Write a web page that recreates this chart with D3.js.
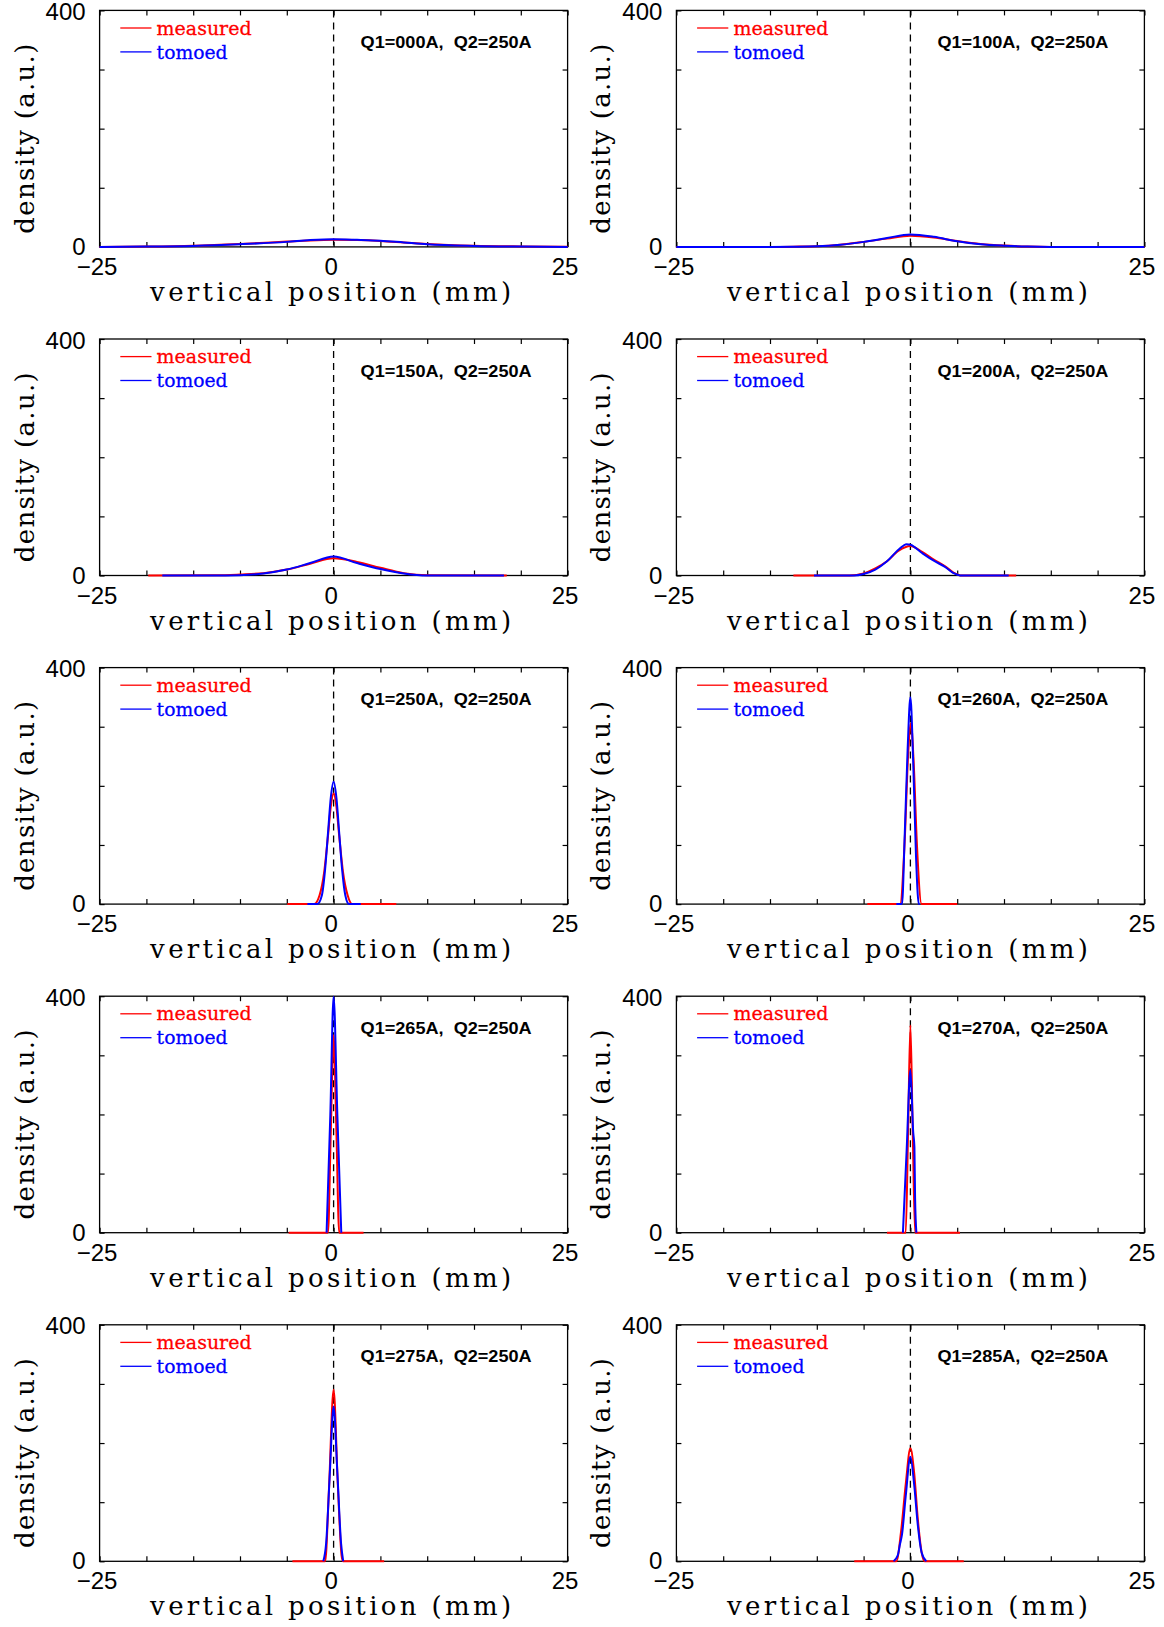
<!DOCTYPE html>
<meta charset="utf-8">
<style>
body { margin: 0; background: #fff; }
.tick text { font: 24px "Liberation Sans", Arial, sans-serif; fill: #000; }
.title { font-family: "DejaVu Serif", serif; font-size: 26px; fill: #000; }
.legend { font-family: "DejaVu Serif", serif; font-size: 19px; }
.note { font-family: "Liberation Sans", Arial, sans-serif; font-size: 16px; font-weight: bold; }
</style>
<svg width="1164" height="1627"></svg>
<script src="https://d3js.org/d3.v7.min.js"></script>
<script>

// panel labels
var labels = ["Q1=000A,  Q2=250A", "Q1=100A,  Q2=250A", "Q1=150A,  Q2=250A", "Q1=200A,  Q2=250A",
              "Q1=250A,  Q2=250A", "Q1=260A,  Q2=250A", "Q1=265A,  Q2=250A", "Q1=270A,  Q2=250A",
              "Q1=275A,  Q2=250A", "Q1=285A,  Q2=250A"];

var xTicks = [-25, 0, 25];
var yTicks = [0, 400];

// profiles: [position (mm), density]
var measured000 = [[-25,0],[-20,0.6],[-15,2],[-10,5],[-5,9],[-2.5,11],[0,12],[2.5,11.5],[5,10],[7.5,7.5],[10,5],[15,2],[20,0.8],[25,0.2]];
var tomoed000   = [[-25,0],[-20,0.5],[-15,1.7],[-10,4.5],[-5,8.5],[-2.5,11.5],[0,13],[2.5,12],[5,10.5],[7.5,7.5],[10,4.5],[15,1.7],[20,0.5],[25,0]];

var measured100 = [[-25,0],[-15,0],[-12.5,0.4],[-10,1.2],[-7.5,3.8],[-5,8.5],[-2.5,14],[0,19],[2.5,16],[5,10],[7.5,5],[10,2.2],[12.5,0.6],[15,0],[25,0]];
var tomoed100   = [[-25,0],[-15,0],[-12.5,0.3],[-10,1],[-7.5,3.5],[-5,8.5],[-2.5,15],[0,21],[2.5,17],[5,9.5],[7.5,4.5],[10,2],[12.5,0.5],[15,0],[25,0]];

var measured150 = [[-19.8,0],[-12.5,0.3],[-10,1.7],[-7.5,4],[-5,10],[-2.5,20],[0,29],[2.5,23],[5,13],[7.5,4],[10,0.5],[18.5,0]];
var tomoed150   = [[-18.3,0],[-12.5,0],[-10,0.5],[-7.5,3.4],[-5,10],[-2.5,21],[0,32],[2.5,21],[5,11],[7.5,3.4],[10,0],[18.2,0]];

var measured200 = [[-12.5,0],[-6.5,0],[-5,3.5],[-3.75,12],[-2.5,24],[-1.25,42],[0,50],[1.25,40],[2.5,27],[3.75,15],[4.6,5],[5.5,0],[11.3,0]];
var tomoed200   = [[-10.3,0],[-6,0],[-5,2.5],[-3.75,10],[-2.5,24],[-1.25,44],[-0.4,53],[0,52],[1.25,38],[2.5,25],[3.75,14],[4.6,4],[5.3,0],[10.5,0]];

var measured250 = [[-4.95,0],[-2.1,0],[-1.5,15],[-1,55],[-0.6,115],[-0.3,165],[0,187],[0.3,165],[0.6,115],[1,55],[1.5,15],[2,0],[6.7,0]];
var tomoed250   = [[-2.8,0],[-1.75,0],[-1.25,15],[-0.9,60],[-0.6,120],[-0.3,180],[0,207],[0.3,180],[0.6,120],[0.9,60],[1.25,15],[1.65,0],[2.9,0]];

var measured260 = [[-4.6,0],[-1.1,0],[-0.6,110],[-0.25,250],[0.05,306],[0.35,240],[0.7,100],[1.2,0],[5,0]];
var tomoed260   = [[-1.5,0],[-0.9,0],[-0.6,120],[-0.3,260],[0,350],[0.3,240],[0.6,80],[0.9,0],[1.0,0]];

var measured265 = [[-4.8,0],[-0.6,0],[-0.3,170],[0,334],[0.3,170],[0.6,0],[3.2,0]];
var tomoed265   = [[-0.75,0],[-0.35,200],[0,399],[0.4,200],[0.82,0]];

var measured270 = [[-2.5,0],[-0.5,0],[-0.25,170],[0,351],[0.25,170],[0.5,0],[5.3,0]];
var tomoed270   = [[-0.8,0],[-0.4,140],[0,275],[0.3,170],[0.43,145],[0.5,60],[0.64,0]];

var measured275 = [[-4.4,0],[-0.9,0],[-0.5,120],[0,290],[0.45,130],[0.85,10],[1.0,0],[5.4,0]];
var tomoed275   = [[-1.1,0],[-0.8,30],[-0.4,150],[0,262],[0.4,150],[0.8,30],[1.03,0]];

var measured285 = [[-6,0],[-1.5,0],[-1,50],[-0.5,130],[0,191],[0.4,150],[0.8,70],[1.2,15],[1.5,0],[5.7,0]];
var tomoed285   = [[-1.8,0],[-1.35,10],[-1.1,30],[-0.9,45],[-0.5,110],[0,177],[0.4,130],[0.8,60],[1.2,15],[1.7,0]];

var measuredAll = [measured000, measured100, measured150, measured200, measured250,
                   measured260, measured265, measured270, measured275, measured285];
var tomoedAll   = [tomoed000, tomoed100, tomoed150, tomoed200, tomoed250,
                   tomoed260, tomoed265, tomoed270, tomoed275, tomoed285];

var svg = d3.select("svg");

var W = 468, H = 236.5;
var colLeft = [99.6, 676.4];
var rowTop = 10.4, rowStep = 328.6;

var x = d3.scaleLinear().domain([-25, 25]).range([0, W]);
var y = d3.scaleLinear().domain([0, 400]).range([H, 0]);

var line = d3.line()
    .x(function(d) { return x(d[0]); })
    .y(function(d) { return y(d[1]); })
    .curve(d3.curveMonotoneX);

labels.forEach(function(lab, i) {
  var g = svg.append("g")
      .attr("transform", "translate(" + colLeft[i % 2] + "," + (rowTop + Math.floor(i / 2) * rowStep) + ")");

  // inward minor ticks on all four sides
  var minorX = d3.range(-25, 26, 5), minorY = d3.range(0, 401, 100);
  g.append("g").attr("transform", "translate(0," + H + ")")
      .call(d3.axisBottom(x).tickValues(minorX).tickSize(-5).tickFormat(""));
  g.append("g")
      .call(d3.axisTop(x).tickValues(minorX).tickSize(-5).tickFormat(""));
  g.append("g")
      .call(d3.axisLeft(y).tickValues(minorY).tickSize(-5).tickFormat(""));
  g.append("g").attr("transform", "translate(" + W + ",0)")
      .call(d3.axisRight(y).tickValues(minorY).tickSize(-5).tickFormat(""));
  g.selectAll(".domain").remove();
  g.selectAll(".tick line").attr("stroke", "#000").attr("stroke-width", 1.2);

  // tick labels
  var ax = g.append("g").attr("transform", "translate(-3," + H + ")")
      .call(d3.axisBottom(x).tickValues(xTicks).tickSize(0).tickPadding(11));
  var ay = g.append("g")
      .call(d3.axisLeft(y).tickValues(yTicks).tickSize(0).tickPadding(14));
  ax.select(".domain").remove();
  ay.select(".domain").remove();
  ay.selectAll(".tick").filter(function(d) { return d === 400; }).select("text").attr("dy", "0.38em");

  g.append("rect")
      .attr("width", W).attr("height", H)
      .attr("fill", "none").attr("stroke", "#000").attr("stroke-width", 1.3);

  g.append("line")
      .attr("x1", x(0)).attr("x2", x(0)).attr("y1", 0).attr("y2", H)
      .attr("stroke", "#000").attr("stroke-width", 1.3).attr("stroke-dasharray", "7,5");

  g.append("path").datum(measuredAll[i])
      .attr("d", line).attr("fill", "none").attr("stroke", "#ff0000").attr("stroke-width", 2);
  g.append("path").datum(tomoedAll[i])
      .attr("d", line).attr("fill", "none").attr("stroke", "#0000ff").attr("stroke-width", 2);

  // legend
  g.append("line").attr("x1", 20.7).attr("x2", 51.9).attr("y1", 17.6).attr("y2", 17.6)
      .attr("stroke", "#ff0000").attr("stroke-width", 1.3);
  g.append("line").attr("x1", 20.7).attr("x2", 51.9).attr("y1", 41.5).attr("y2", 41.5)
      .attr("stroke", "#0000ff").attr("stroke-width", 1.3);
  g.append("text").attr("class", "legend").attr("x", 57).attr("y", 17.6).attr("dy", "0.35em")
      .attr("fill", "#ff0000").attr("stroke", "#ff0000").attr("stroke-width", 0.3)
      .attr("textLength", 95).attr("lengthAdjust", "spacingAndGlyphs").text("measured");
  g.append("text").attr("class", "legend").attr("x", 57).attr("y", 41.5).attr("dy", "0.35em")
      .attr("fill", "#0000ff").attr("stroke", "#0000ff").attr("stroke-width", 0.3)
      .attr("textLength", 71).attr("lengthAdjust", "spacingAndGlyphs").text("tomoed");

  g.append("text").attr("class", "note").attr("x", 261).attr("y", 32).attr("dy", "0.35em")
      .attr("xml:space", "preserve").style("white-space", "pre")
      .attr("textLength", 171).attr("lengthAdjust", "spacingAndGlyphs").text(lab);

  // axis titles
  g.append("text").attr("class", "title")
      .attr("x", W / 2 - 3).attr("y", H + 54).attr("text-anchor", "middle")
      .attr("textLength", 361).attr("lengthAdjust", "spacing")
      .text("vertical position (mm)");
  g.append("text").attr("class", "title")
      .attr("transform", "translate(" + (-66) + "," + (H / 2 + 10) + ") rotate(-90)")
      .attr("text-anchor", "middle")
      .attr("textLength", 190).attr("lengthAdjust", "spacing")
      .text("density (a.u.)");
});

</script>
